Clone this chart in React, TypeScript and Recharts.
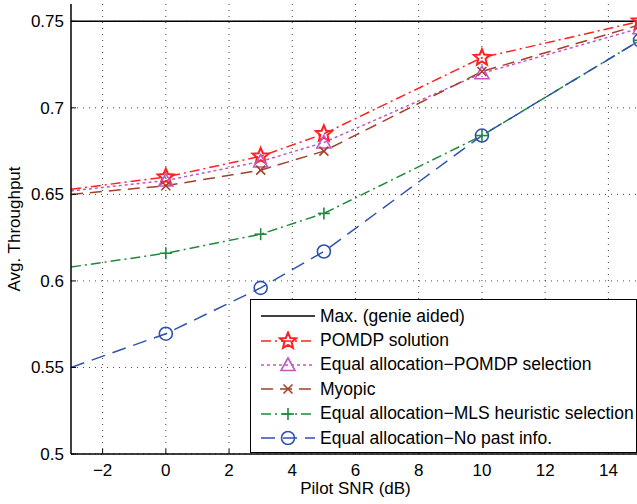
import React from 'react';
import {
  LineChart,
  Line,
  XAxis,
  YAxis,
  CartesianGrid,
  Legend,
} from 'recharts';

const snr = [-3, 0, 3, 5, 10, 15];
const maxGenie = [0.75, 0.75, 0.75, 0.75, 0.75, 0.75];
const pomdp = [0.653, 0.66, 0.672, 0.685, 0.729, 0.75];
const eqPomdp = [0.652, 0.658, 0.669, 0.68, 0.72, 0.746];
const myopic = [0.65, 0.655, 0.664, 0.675, 0.721, 0.748];
const eqMls = [0.608, 0.616, 0.627, 0.639, 0.684, 0.739];
const eqNoPast = [0.55, 0.5695, 0.596, 0.617, 0.684, 0.739];

const xTicks = [-2, 0, 2, 4, 6, 8, 10, 12, 14];
const yTicks = [0.5, 0.55, 0.6, 0.65, 0.7, 0.75];

const data = snr.map((x, i) => ({
  x,
  maxGenie: maxGenie[i],
  pomdp: pomdp[i],
  eqPomdp: eqPomdp[i],
  myopic: myopic[i],
  eqMls: eqMls[i],
  eqNoPast: eqNoPast[i],
}));

const FONT = '"Liberation Sans", Arial, Helvetica, sans-serif';
const FS = 17;

type Marker = 'none' | 'star' | 'triangle' | 'cross' | 'plus' | 'circle';

const series: Array<{
  key: string;
  name: string;
  color: string;
  dash?: string;
  marker: Marker;
}> = [
  { key: 'maxGenie', name: 'Max. (genie aided)', color: '#000000', marker: 'none' },
  { key: 'pomdp', name: 'POMDP solution', color: '#ff2020', dash: '10 4 2 4', marker: 'star' },
  { key: 'eqPomdp', name: 'Equal allocation\u2212POMDP selection', color: '#c455c4', dash: '3 3', marker: 'triangle' },
  { key: 'myopic', name: 'Myopic', color: '#a3402a', dash: '12 7', marker: 'cross' },
  { key: 'eqMls', name: 'Equal allocation\u2212MLS heuristic selection', color: '#1f8a3c', dash: '10 4 2 4', marker: 'plus' },
  { key: 'eqNoPast', name: 'Equal allocation\u2212No past info.', color: '#2f52b0', dash: '14 8', marker: 'circle' },
];

function drawMarker(m: Marker, cx: number, cy: number, color: string, k?: string) {
  const sw = 1.6;
  if (m === 'star') {
    const pts: string[] = [];
    for (let i = 0; i < 10; i++) {
      const r = i % 2 === 0 ? 8.5 : 3.8;
      const a = -Math.PI / 2 + (i * Math.PI) / 5;
      pts.push(`${cx + r * Math.cos(a)},${cy + r * Math.sin(a)}`);
    }
    return <polygon key={k} points={pts.join(' ')} fill="none" stroke={color} strokeWidth={2} />;
  }
  if (m === 'triangle') {
    return (
      <polygon
        key={k}
        points={`${cx},${cy - 7} ${cx - 7},${cy + 5.5} ${cx + 7},${cy + 5.5}`}
        fill="none"
        stroke={color}
        strokeWidth={sw}
      />
    );
  }
  if (m === 'cross') {
    return (
      <g key={k} stroke={color} strokeWidth={sw}>
        <line x1={cx - 4.5} y1={cy - 4.5} x2={cx + 4.5} y2={cy + 4.5} />
        <line x1={cx - 4.5} y1={cy + 4.5} x2={cx + 4.5} y2={cy - 4.5} />
      </g>
    );
  }
  if (m === 'plus') {
    return (
      <g key={k} stroke={color} strokeWidth={sw}>
        <line x1={cx - 6} y1={cy} x2={cx + 6} y2={cy} />
        <line x1={cx} y1={cy - 6} x2={cx} y2={cy + 6} />
      </g>
    );
  }
  if (m === 'circle') {
    return <circle key={k} cx={cx} cy={cy} r={6.5} fill="none" stroke={color} strokeWidth={sw} />;
  }
  return <g key={k} />;
}

const makeDot = (m: Marker, color: string) => (props: any) => {
  const { cx, cy, index, key } = props;
  if (index === 0 || m === 'none') return <g key={key ?? index} />;
  return drawMarker(m, cx, cy, color, key ?? `d${index}`);
};

const BottomTick = (props: any) => {
  const { x, y, payload } = props;
  const axisY = y - 8;
  return (
    <g>
      <line x1={x} x2={x} y1={axisY} y2={axisY - 5} stroke="#000" />
      <text x={x} y={axisY + 22} textAnchor="middle" fontFamily={FONT} fontSize={FS} fill="#000">
        {String(payload.value).replace('-', '\u2212')}
      </text>
    </g>
  );
};

const TopTick = (props: any) => {
  const { x, y } = props;
  const axisY = y + 8;
  return <line x1={x} x2={x} y1={axisY} y2={axisY + 5} stroke="#000" />;
};

const LeftTick = (props: any) => {
  const { x, y, payload } = props;
  const axisX = x + 8;
  return (
    <g>
      <line x1={axisX} x2={axisX + 5} y1={y} y2={y} stroke="#000" />
      <text x={axisX - 7} y={y + 6} textAnchor="end" fontFamily={FONT} fontSize={FS} fill="#000">
        {payload.value}
      </text>
    </g>
  );
};

const LegendBox = () => (
  <div
    style={{
      border: '1.5px solid #000',
      background: '#fff',
      boxSizing: 'border-box',
      width: 387,
      height: 154,
      padding: '4px 0 0 9px',
      fontFamily: FONT,
      fontSize: 17.5,
      color: '#000',
    }}
  >
    {series.map((s) => (
      <div key={s.key} style={{ display: 'flex', alignItems: 'center', height: 24.4 }}>
        <svg width={56} height={20} style={{ marginRight: 4, flexShrink: 0 }}>
          <line
            x1={1}
            x2={55}
            y1={10}
            y2={10}
            stroke={s.color}
            strokeWidth={1.5}
            strokeDasharray={s.dash}
          />
          {drawMarker(s.marker, 28, 10, s.color)}
        </svg>
        <span style={{ whiteSpace: 'nowrap' }}>{s.name}</span>
      </div>
    ))}
  </div>
);

export default function App() {
  return (
    <div
      style={{
        position: 'absolute',
        left: 0,
        top: 0,
        width: 637,
        height: 504,
        overflow: 'hidden',
        background: '#fff',
      }}
    >
      <LineChart
        width={660}
        height={504}
        data={data}
        margin={{ top: 4, right: 20, bottom: 0, left: 0 }}
      >
        <CartesianGrid
          stroke="#444"
          strokeDasharray="1 5"
          horizontalValues={yTicks}
          verticalValues={xTicks}
        />
        <XAxis
          dataKey="x"
          type="number"
          domain={[-3, 15]}
          ticks={xTicks}
          allowDataOverflow
          height={50}
          axisLine={{ stroke: '#000', strokeWidth: 1.5 }}
          tickLine={false}
          tick={<BottomTick />}
          interval={0}
          label={{
            value: 'Pilot SNR (dB)',
            position: 'insideBottom',
            offset: 10,
            fontFamily: FONT,
            fontSize: FS,
            fill: '#000',
          }}
        />
        <XAxis
          xAxisId="top"
          dataKey="x"
          type="number"
          orientation="top"
          domain={[-3, 15]}
          ticks={xTicks}
          allowDataOverflow
          height={0}
          axisLine={{ stroke: '#000', strokeWidth: 1.5 }}
          tickLine={false}
          tick={<TopTick />}
          interval={0}
        />
        <YAxis
          type="number"
          domain={[0.5, 0.76]}
          ticks={yTicks}
          allowDataOverflow
          width={71}
          axisLine={{ stroke: '#000', strokeWidth: 1.5 }}
          tickLine={false}
          tick={<LeftTick />}
          interval={0}
          label={{
            value: 'Avg. Throughput',
            angle: -90,
            position: 'insideLeft',
            offset: 14,
            fontFamily: FONT,
            fontSize: FS,
            fill: '#000',
            style: { textAnchor: 'middle' },
          }}
        />
        <YAxis
          yAxisId="right"
          type="number"
          orientation="right"
          domain={[0.5, 0.76]}
          ticks={yTicks}
          width={0}
          axisLine={{ stroke: '#000', strokeWidth: 1.5 }}
          tickLine={false}
          tick={false}
        />
        <Legend
          layout="vertical"
          align="center"
          verticalAlign="middle"
          content={<LegendBox />}
          wrapperStyle={{ position: 'absolute', left: 250, top: 299, width: 387, height: 154 }}
        />
        {series.map((s) => (
          <Line
            key={s.key}
            type="linear"
            dataKey={s.key}
            name={s.name}
            stroke={s.color}
            strokeWidth={1.5}
            strokeDasharray={s.dash}
            dot={makeDot(s.marker, s.color)}
            activeDot={false}
            isAnimationActive={false}
          />
        ))}
      </LineChart>
    </div>
  );
}
